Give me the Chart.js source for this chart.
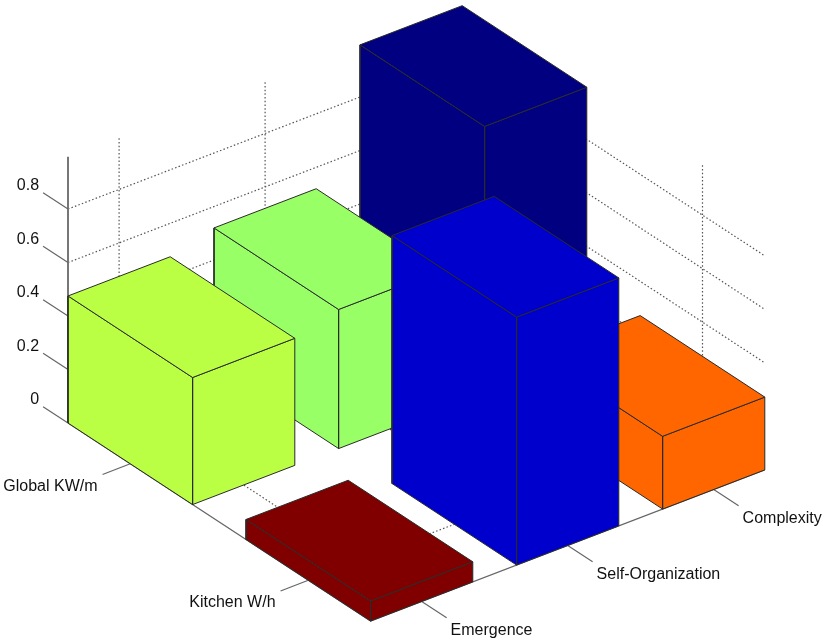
<!DOCTYPE html>
<html>
<head>
<meta charset="utf-8">
<style>
  html, body { margin: 0; padding: 0; background: #fff; }
  canvas { display: block; }
</style>
<script src="https://cdn.jsdelivr.net/npm/chart.js@4/dist/chart.umd.min.js"></script>
</head>
<body>
<canvas id="chart" width="824" height="644"></canvas>
<script>
var rowLabels = ['Global KW/m', 'Kitchen W/h'];
var colLabels = ['Emergence', 'Self-Organization', 'Complexity'];
var globalValues = [0.475, 0.52, 0.995];
var kitchenValues = [0.075, 0.927, 0.272];
var globalColors = ['#BBFF45', '#99FF66', '#000080'];
var kitchenColors = ['#800000', '#0000CC', '#FF6600'];
var zTicks = [0, 0.2, 0.4, 0.6, 0.8];
var zTop = 0.995;

// view of the 3d box: row step, column step and height, in page pixels
var view = { ox: 181.4, oy: 444.2, rx: 178, ry: 116.5, cx: 146, cy: -56, z: 267.5 };
var half = 0.35;
var rMin = -half, rMax = rowLabels.length - 1 + half;
var cMin = -half, cMax = colLabels.length - 1 + half;

function project(r, c, z)
{
  return { x: view.ox + r*view.rx + c*view.cx, y: view.oy + r*view.ry + c*view.cy - z*view.z };
}

function path(list)
{
  return list.map(function(p) { return project(p[0], p[1], p[2]); });
}

function lineSet(list, color, width, dash)
{
  return { data: path(list), showLine: true, fill: false, borderColor: color, borderWidth: width, borderDash: dash || [], pointRadius: 0, tension: 0 };
}

function faceSet(list, color, edge)
{
  var closed = list.concat([list[0]]);
  return { data: path(closed), showLine: true, fill: 'shape', backgroundColor: color, borderColor: edge, borderWidth: 1, pointRadius: 0, tension: 0 };
}

var back = [];
var gridColor = '#555555';
var dots = [1.5, 2.2];

// dotted grid on the walls and the floor
zTicks.slice(1).forEach(function(z)
{
  back.push(lineSet([[rMin, cMin, z], [rMin, cMax, z], [rMax, cMax, z]], gridColor, 1.2, dots));
});
colLabels.forEach(function(name, c)
{
  back.push(lineSet([[rMax, c, 0], [rMin, c, 0], [rMin, c, zTop]], gridColor, 1.2, dots));
});
rowLabels.forEach(function(name, r)
{
  back.push(lineSet([[r, cMin, 0], [r, cMax, 0], [r, cMax, zTop]], gridColor, 1.2, dots));
});

// solid axes and their ticks
var axisColor = '#666666';
back.push(lineSet([[rMin, cMin, 0], [rMin, cMin, zTop]], '#777777', 2));
back.push(lineSet([[rMin, cMin, 0], [rMax, cMin, 0], [rMax, cMax, 0]], axisColor, 1.2));
zTicks.forEach(function(z)
{
  back.push(lineSet([[rMin, cMin, z], [rMin - 0.14, cMin, z]], axisColor, 1.2));
});
rowLabels.forEach(function(name, r)
{
  back.push(lineSet([[r, cMin, 0], [r, cMin - 0.19, 0]], axisColor, 1.2));
});
colLabels.forEach(function(name, c)
{
  back.push(lineSet([[rMax, c, 0], [rMax + 0.14, c, 0]], axisColor, 1.2));
});

// bars, far ones first
var bars = [];
[globalValues, kitchenValues].forEach(function(values, r)
{
  var colors = r == 0 ? globalColors : kitchenColors;
  values.forEach(function(v, c)
  {
    bars.push({ r: r, c: c, v: v, color: colors[c] });
  });
});
bars.sort(function(a, b) { return (a.r - a.c) - (b.r - b.c); });

var faces = [];
bars.forEach(function(b)
{
  var r0 = b.r - half, r1 = b.r + half, c0 = b.c - half, c1 = b.c + half;
  var edge = '#2a2a2a';
  faces.push(faceSet([[r0, c0, 0], [r1, c0, 0], [r1, c0, b.v], [r0, c0, b.v]], b.color, edge));
  faces.push(faceSet([[r1, c0, 0], [r1, c1, 0], [r1, c1, b.v], [r1, c0, b.v]], b.color, edge));
  faces.push(faceSet([[r0, c0, b.v], [r1, c0, b.v], [r1, c1, b.v], [r0, c1, b.v]], b.color, edge));
});

// chart.js paints the first dataset last
var datasets = back.concat(faces).reverse();

// oblique axis labels, placed from the same scales as the marks
var axisLabels = {
  id: 'axisLabels',
  afterDraw: function(chart)
  {
    var ctx = chart.ctx, sx = chart.scales.x, sy = chart.scales.y;
    function put(text, p, dx, dy, align)
    {
      ctx.textAlign = align;
      ctx.fillText(text, sx.getPixelForValue(p.x) + dx, sy.getPixelForValue(p.y) + dy);
    }
    ctx.save();
    ctx.font = '16px "Liberation Sans"';
    ctx.fillStyle = '#111111';
    ctx.textBaseline = 'middle';
    zTicks.forEach(function(z)
    {
      put(String(z), project(rMin - 0.14, cMin, z), -4, -7, 'right');
    });
    rowLabels.forEach(function(name, r)
    {
      put(name, project(r, cMin - 0.19, 0), -5, 12, 'right');
    });
    colLabels.forEach(function(name, c)
    {
      put(name, project(rMax + 0.14, c, 0), 4, 13, 'left');
    });
    ctx.restore();
  }
};

new Chart(document.getElementById('chart').getContext('2d'), {
  type: 'scatter',
  data: { datasets: datasets },
  plugins: [axisLabels],
  options: {
    responsive: false,
    animation: false,
    layout: { padding: 0 },
    plugins: { legend: { display: false }, tooltip: { enabled: false } },
    scales: {
      x: { type: 'linear', display: false, min: 0, max: 824 },
      y: { type: 'linear', display: false, min: 0, max: 644, reverse: true }
    }
  }
});
</script>
</body>
</html>
